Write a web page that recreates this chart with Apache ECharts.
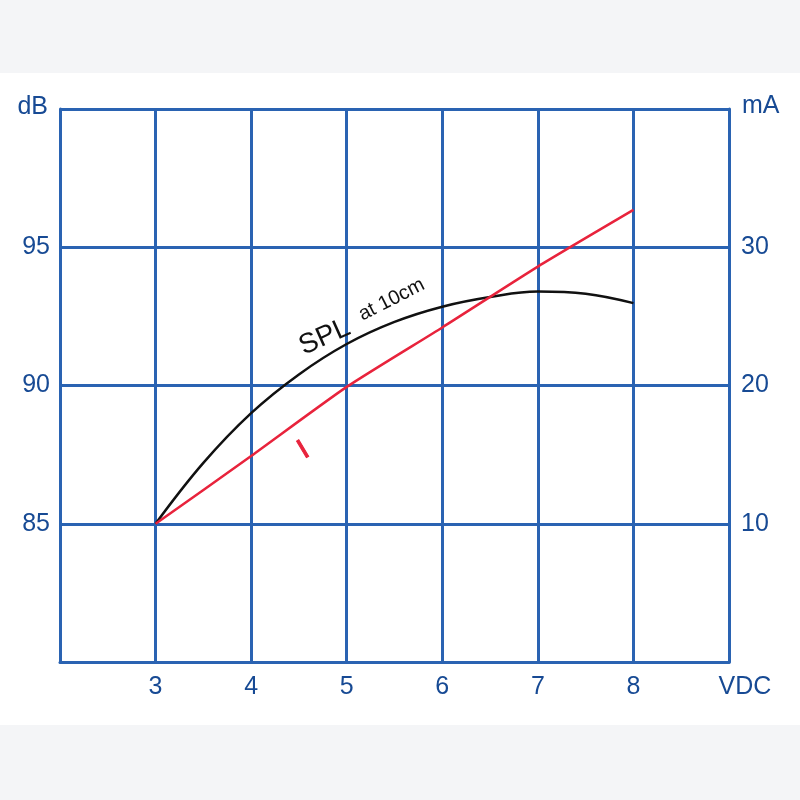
<!DOCTYPE html>
<html>
<head>
<meta charset="utf-8">
<script src="https://cdn.jsdelivr.net/npm/echarts@6/dist/echarts.min.js"></script>
<style>
html,body{margin:0;padding:0;background:#fff;}
#c{width:800px;height:800px;}
</style>
</head>
<body>
<div id="c"></div>
<script>
// Data
var xTicks = [3, 4, 5, 6, 7, 8];
var splVoltage = [3, 3.5, 4, 4.5, 5, 5.5, 6, 6.5, 7, 7.5, 8];
var splDb = [85, 87.2, 89.0, 90.4, 91.5, 92.3, 92.85, 93.2, 93.4, 93.32, 92.98];
var curVoltage = [3, 4, 5, 6, 7, 8];
var curMa = [10, 14.9, 19.9, 24.2, 28.6, 32.7];
var leftTicks = [85, 90, 95];
var rightTicks = [10, 20, 30];

var BLUE = '#2a63b2';
var TEXT = '#174a94';
var FONT = 'Liberation Sans, Arial, sans-serif';
var FS = 25;

var chart = echarts.init(document.getElementById('c'), null, {renderer: 'canvas'});

function zip(a, b) { return a.map(function (v, i) { return [v, b[i]]; }); }

var option = {
  backgroundColor: '#ffffff',
  animation: false,
  grid: {left: 60, right: 71, top: 109, bottom: 138, containLabel: false},
  xAxis: {
    type: 'value', min: 2, max: 9, interval: 1,
    name: 'VDC', nameLocation: 'end', nameGap: 16,
    nameTextStyle: {color: TEXT, fontSize: FS, fontFamily: FONT, align: 'center', verticalAlign: 'top', padding: [13, 0, 0, 0]},
    axisLine: {show: true, lineStyle: {color: BLUE, width: 3}},
    axisTick: {show: false},
    splitLine: {show: true, lineStyle: {color: BLUE, width: 3}},
    axisLabel: {
      color: TEXT, fontSize: FS, fontFamily: FONT, margin: 13,
      formatter: function (v) { return xTicks.indexOf(v) >= 0 ? String(v) : ''; }
    }
  },
  yAxis: [{
    type: 'value', min: 80, max: 100, interval: 5, position: 'left',
    name: 'dB', nameLocation: 'end', nameGap: 2,
    nameTextStyle: {color: TEXT, fontSize: FS, fontFamily: FONT, align: 'right', verticalAlign: 'middle', padding: [0, 12, 0, 0]},
    axisLine: {show: true, lineStyle: {color: BLUE, width: 3}},
    axisTick: {show: false},
    splitLine: {show: true, lineStyle: {color: BLUE, width: 3}},
    axisLabel: {
      color: TEXT, fontSize: FS, fontFamily: FONT, margin: 10,
      formatter: function (v) { return leftTicks.indexOf(v) >= 0 ? String(v) : ''; }
    }
  }, {
    type: 'value', min: 0, max: 40, interval: 10, position: 'right',
    name: 'mA', nameLocation: 'end', nameGap: 3,
    nameTextStyle: {color: TEXT, fontSize: FS, fontFamily: FONT, align: 'left', verticalAlign: 'middle', padding: [0, 0, 0, 13]},
    axisLine: {show: true, lineStyle: {color: BLUE, width: 3}},
    axisTick: {show: false},
    splitLine: {show: false},
    axisLabel: {
      color: TEXT, fontSize: FS, fontFamily: FONT, margin: 12,
      formatter: function (v) { return rightTicks.indexOf(v) >= 0 ? String(v) : ''; }
    }
  }],
  series: [{
    name: 'SPL', type: 'line', yAxisIndex: 0, smooth: 0.4, symbol: 'none',
    lineStyle: {color: '#111111', width: 2.5},
    data: zip(splVoltage, splDb), z: 5
  }, {
    name: 'I', type: 'line', yAxisIndex: 1, smooth: 0.2, symbol: 'none',
    lineStyle: {color: '#e8233c', width: 2.5},
    data: zip(curVoltage, curMa), z: 6
  }]
};
chart.setOption(option);

// Annotations placed via data coordinates
var pSpl = chart.convertToPixel({xAxisIndex: 0, yAxisIndex: 0}, [4.77, 91.75]);
var pAt = chart.convertToPixel({xAxisIndex: 0, yAxisIndex: 0}, [5.47, 93.1]);
var pI = chart.convertToPixel({xAxisIndex: 0, yAxisIndex: 1}, [4.55, 15.3]);

chart.setOption({
  graphic: [
    {type: 'rect', z: -10, silent: true, shape: {x: 0, y: 0, width: 800, height: 73}, style: {fill: '#f4f5f7'}},
    {type: 'rect', z: -10, silent: true, shape: {x: 0, y: 725, width: 800, height: 75}, style: {fill: '#f4f5f7'}},
    {type: 'text', z: 20, x: pSpl[0], y: pSpl[1], rotation: 24 * Math.PI / 180,
      style: {text: 'SPL', fill: '#111', font: '28px ' + FONT, textAlign: 'center', textVerticalAlign: 'middle', align: 'center', verticalAlign: 'middle'}},
    {type: 'text', z: 20, x: pAt[0], y: pAt[1], rotation: 27 * Math.PI / 180,
      style: {text: 'at 10cm', fill: '#111', font: '20px ' + FONT, textAlign: 'center', textVerticalAlign: 'middle', align: 'center', verticalAlign: 'middle'}},
    {type: 'text', z: 20, x: pI[0], y: pI[1], rotation: 31 * Math.PI / 180,
      style: {text: 'I', fill: '#e8233c', font: '28px ' + FONT, stroke: '#e8233c', lineWidth: 1, textAlign: 'center', textVerticalAlign: 'middle', align: 'center', verticalAlign: 'middle'}}
  ]
});
</script>
</body>
</html>
